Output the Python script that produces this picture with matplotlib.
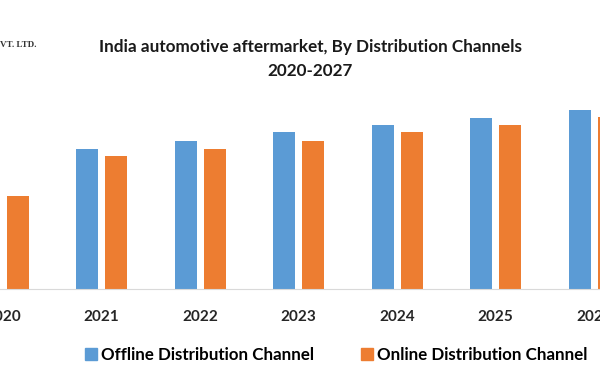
import matplotlib
matplotlib.use("Agg")
import matplotlib.pyplot as plt
import numpy as np
from matplotlib.lines import Line2D

years = ["2020", "2021", "2022", "2023", "2024", "2025", "2026", "2027"]
offline = [100, 140, 148, 157, 164, 171, 179, 186]
online = [93, 133, 140, 148, 157, 164, 172, 179]

blue = "#5B9BD5"
orange = "#ED7D31"
font = "Lato"

fig = plt.figure(figsize=(6, 3.8), dpi=100)
W, H = 600, 380
base_px = 289
top_px = 90
ax = fig.add_axes([0, (H - base_px) / H, 1, (base_px - top_px) / H])
spacing = 98.5
x0px = 3

x = np.arange(len(years))
bw = 22 / spacing
off = 14.5 / spacing
ax.bar(x - off, offline, width=bw, color=blue)
ax.bar(x + off, online, width=bw, color=orange)

for s in ["top", "right", "left"]:
    ax.spines[s].set_visible(False)
ax.spines["bottom"].set_color("#D9D9D9")
ax.set_yticks([])
ax.set_xticks(x)
ax.set_xticklabels(years, fontfamily=font, fontweight="bold", fontsize=11, color="#262626")
ax.tick_params(axis="x", length=0, pad=15)
ax.set_xlim((0 - x0px) / spacing, (W - x0px) / spacing)
ax.set_ylim(0, base_px - top_px)

fig.text(310 / W, 1 - 47 / H, "India automotive aftermarket, By Distribution Channels",
         ha="center", va="center", fontfamily=font, fontweight="bold", fontsize=12.3, color="#1a1a1a")
fig.text(310 / W, 1 - 71 / H, "2020-2027",
         ha="center", va="center", fontfamily=font, fontweight="bold", fontsize=12.3, color="#1a1a1a")
fig.text(0, 1 - 45 / H, "VT. LTD.", ha="left", va="center", fontfamily="Liberation Serif",
         fontweight="bold", fontsize=6.5, color="#333333")

handles = [Line2D([], [], marker="s", linestyle="none", markersize=8, color=blue),
           Line2D([], [], marker="s", linestyle="none", markersize=8, color=orange)]
fig.legend(handles, ["Offline Distribution Channel", "Online Distribution Channel"],
           loc="center", bbox_to_anchor=(335 / W, 1 - 355 / H), ncol=2, frameon=False,
           prop={"family": font, "weight": "bold", "size": 12.2}, handletextpad=0.1,
           columnspacing=2.6, handlelength=1.0)

fig.savefig("out.png", dpi=100)
